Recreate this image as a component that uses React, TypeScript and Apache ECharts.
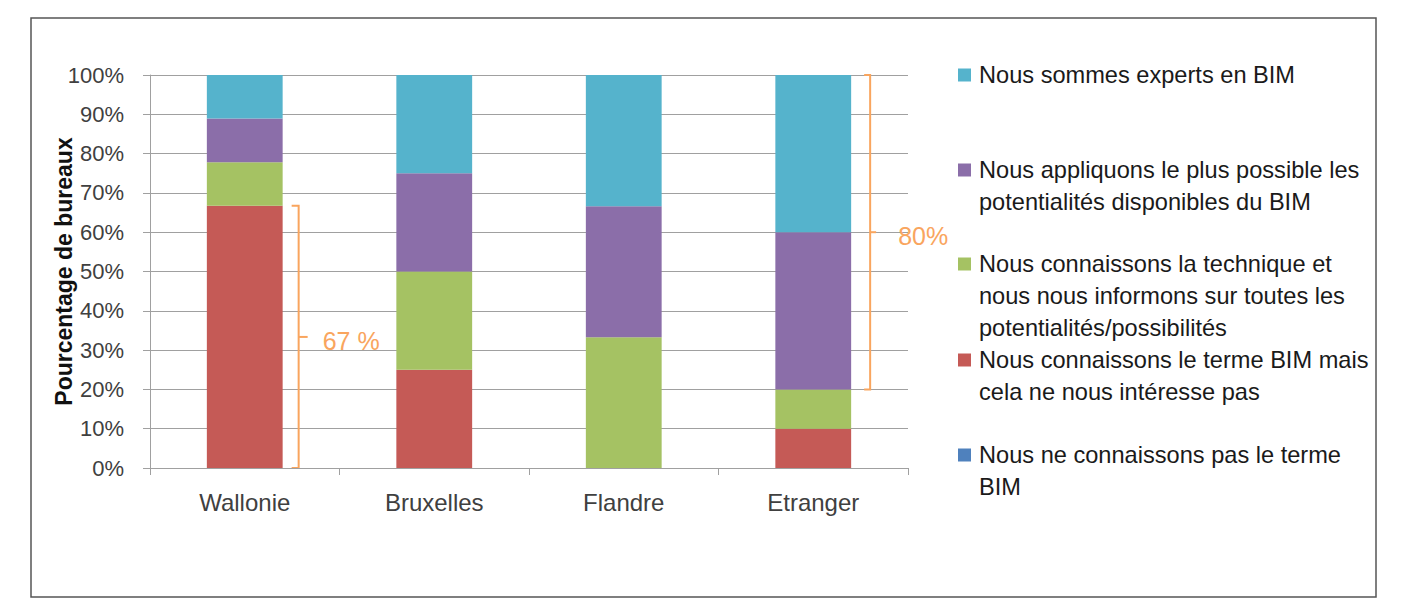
import React, { useEffect, useRef } from 'react';
import * as echarts from 'echarts';

// ---------- data ----------
const categories = ['Wallonie', 'Bruxelles', 'Flandre', 'Etranger'];
const seriesNames = [
  'Nous ne connaissons pas le terme BIM',
  'Nous connaissons le terme BIM mais cela ne nous intéresse pas',
  'Nous connaissons la technique et nous nous informons sur toutes les potentialités/possibilités',
  'Nous appliquons le plus possible les potentialités disponibles du BIM',
  'Nous sommes experts en BIM',
];
// legend text as wrapped in the reference (top to bottom)
const legendLabels = [
  'Nous sommes experts en BIM',
  'Nous appliquons le plus possible les\npotentialités disponibles du BIM',
  'Nous connaissons la technique et\nnous nous informons sur toutes les\npotentialités/possibilités',
  'Nous connaissons le terme BIM mais\ncela ne nous intéresse pas',
  'Nous ne connaissons pas le terme\nBIM',
];
const legendSeriesIndex = [4, 3, 2, 1, 0];

const neConnaissentPas = [0, 0, 0, 0];
const pasInteresses = [66.7, 25, 0, 10];
const technique = [11.1, 25, 33.3, 10];
const appliquent = [11.1, 25, 33.3, 40];
const experts = [11.1, 25, 33.4, 40];
const seriesValues = [neConnaissentPas, pasInteresses, technique, appliquent, experts];

const colors = ['#4F81BD', '#C55A56', '#A5C263', '#8B6EA9', '#55B3CC'];

const yAxisTitle = 'Pourcentage de bureaux';

// bracket annotations
const bracketCategory = [0, 3];
const bracketFrom = [0, 20];
const bracketTo = [66.7, 100];
const bracketLabels = ['67 %', '80%'];

// ---------- layout ----------
const FONT = '"Liberation Sans", Arial, sans-serif';
const ORANGE = '#F9A55E';
const legendFirstLineY = [75, 170, 264, 360, 455];
const LINE_H = 32;
const bracketOffsets = [
  { arm: 9, line: 16, tick: 25, label: 40 },
  { arm: 13, line: 19, tick: 25, label: 47 },
];

export default function App() {
  const ref = useRef<HTMLDivElement>(null);

  useEffect(() => {
    document.body.style.margin = '0';
    const chart = echarts.init(ref.current!, null, { renderer: 'svg' });
    const option: any = {
      animation: false,
      textStyle: { fontFamily: FONT },
      color: colors,
      grid: { left: 150, right: 494, top: 75, bottom: 131, containLabel: false },
      xAxis: {
        type: 'category',
        data: categories,
        axisLine: { show: true, lineStyle: { color: '#a0a0a0', width: 1 } },
        axisTick: { show: true, length: 7, lineStyle: { color: '#a0a0a0' } },
        axisLabel: { color: '#404040', fontSize: 24, margin: 22, fontFamily: FONT },
      },
      yAxis: {
        type: 'value',
        min: 0,
        max: 100,
        interval: 10,
        name: yAxisTitle,
        nameLocation: 'middle',
        nameGap: 75,
        nameMoveOverlap: false,
        nameRotate: 90,
        nameTextStyle: { fontSize: 23, fontWeight: 'bold', color: '#111', fontFamily: FONT },
        axisLine: { show: true, lineStyle: { color: '#a0a0a0', width: 1 } },
        axisTick: { show: true, length: 7, lineStyle: { color: '#a0a0a0' } },
        axisLabel: { color: '#404040', fontSize: 22, margin: 26, formatter: '{value}%', fontFamily: FONT },
        splitLine: { show: true, lineStyle: { color: '#a0a0a0', width: 1 } },
      },
      series: seriesNames.map((name, i) => ({
        name,
        type: 'bar',
        stack: 'total',
        barWidth: '40%',
        data: seriesValues[i],
        itemStyle: { color: colors[i] },
      })),
    };
    chart.setOption(option);

    const graphics: any[] = [];
    // outer border
    graphics.push({
      type: 'rect',
      shape: { x: 31, y: 18, width: 1345, height: 579 },
      style: { fill: 'none', stroke: '#555', lineWidth: 1.5 },
      silent: true,
    });
    // legend
    legendLabels.forEach((label, k) => {
      const cy = legendFirstLineY[k];
      graphics.push({
        type: 'rect',
        shape: { x: 958, y: cy - 6.5, width: 13, height: 13 },
        style: { fill: colors[legendSeriesIndex[k]] },
      });
      graphics.push({
        type: 'text',
        x: 979,
        y: cy - LINE_H / 2,
        style: {
          text: label,
          font: `23.6px ${FONT}`,
          fill: '#1a1a1a',
          lineHeight: LINE_H,
          verticalAlign: 'top',
          align: 'left',
        },
      });
    });
    // brackets
    const p0 = chart.convertToPixel({ gridIndex: 0 }, [0, 0]) as number[];
    const p1 = chart.convertToPixel({ gridIndex: 0 }, [1, 0]) as number[];
    const band = p1[0] - p0[0];
    const halfBar = band * 0.2;
    bracketCategory.forEach((cat, k) => {
      const a = chart.convertToPixel({ gridIndex: 0 }, [cat, bracketFrom[k]]) as number[];
      const b = chart.convertToPixel({ gridIndex: 0 }, [cat, bracketTo[k]]) as number[];
      const right = a[0] + halfBar;
      const o = bracketOffsets[k];
      const yBot = a[1];
      const yTop = b[1];
      const yMid = (yBot + yTop) / 2;
      graphics.push({
        type: 'polyline',
        shape: {
          points: [
            [right + o.arm, yTop],
            [right + o.line, yTop],
            [right + o.line, yBot],
            [right + o.arm, yBot],
          ],
        },
        style: { stroke: ORANGE, lineWidth: 2, fill: 'none' },
      });
      graphics.push({
        type: 'line',
        shape: { x1: right + o.line, y1: yMid, x2: right + o.tick, y2: yMid },
        style: { stroke: ORANGE, lineWidth: 2 },
      });
      graphics.push({
        type: 'text',
        x: right + o.label,
        y: yMid + 4,
        style: {
          text: bracketLabels[k],
          font: `25px ${FONT}`,
          fill: ORANGE,
          verticalAlign: 'middle',
          align: 'left',
        },
      });
    });
    chart.setOption({ graphic: graphics });

    return () => chart.dispose();
  }, []);

  return <div ref={ref} style={{ width: 1402, height: 599 }} />;
}
